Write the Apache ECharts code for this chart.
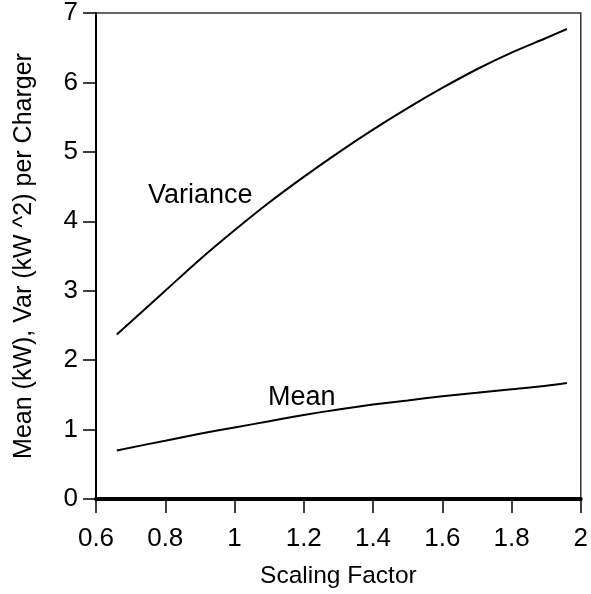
<!DOCTYPE html>
<html>
<head>
<meta charset="utf-8">
<script src="https://cdn.jsdelivr.net/npm/echarts@6/dist/echarts.min.js"></script>
<style>
  html, body { margin: 0; padding: 0; background: #fff; }
  #chart { width: 591px; height: 594px; }
</style>
</head>
<body>
<div id="chart"></div>
<script>
// scaling factor (x) and per-charger values
const scaling = [0.66, 0.8, 0.9, 1.0, 1.1, 1.2, 1.3, 1.4, 1.5, 1.6, 1.7, 1.8, 1.9, 1.96];
const variance = [2.37, 3.0, 3.45, 3.87, 4.27, 4.64, 4.99, 5.32, 5.63, 5.92, 6.19, 6.43, 6.64, 6.77];
const mean = [0.7, 0.84, 0.94, 1.03, 1.12, 1.21, 1.29, 1.36, 1.42, 1.48, 1.53, 1.58, 1.63, 1.67];

const font = 'Liberation Sans, Arial, sans-serif';
const pair = (ys) => scaling.map((x, i) => [x, ys[i]]);

const chart = echarts.init(document.getElementById('chart'));

chart.setOption({
  animation: false,
  grid: {
    left: 96,
    right: 9,
    top: 13,
    bottom: 95,
    show: true,
    borderColor: '#333',
    borderWidth: 1.5,
  },
  xAxis: {
    type: 'value',
    min: 0.6,
    max: 2,
    interval: 0.2,
    name: 'Scaling Factor',
    nameLocation: 'middle',
    nameGap: 65,
    nameTextStyle: { color: '#000', fontSize: 24.5, fontFamily: font },
    axisLine: { show: true, onZero: false, lineStyle: { color: '#000', width: 4 } },
    axisTick: { show: true, inside: false, length: 14, lineStyle: { color: '#000', width: 1.5 } },
    axisLabel: { color: '#000', fontSize: 26, fontFamily: font, margin: 27 },
    splitLine: { show: false },
  },
  yAxis: {
    type: 'value',
    min: 0,
    max: 7,
    interval: 1,
    name: 'Mean (kW), Var (kW ^2) per Charger',
    nameLocation: 'middle',
    nameGap: 59,
    nameTextStyle: { color: '#000', fontSize: 25, fontFamily: font },
    axisLine: { show: true, onZero: false, lineStyle: { color: '#000', width: 2 } },
    axisTick: { show: true, inside: false, length: 13, lineStyle: { color: '#000', width: 1.5 } },
    axisLabel: { color: '#000', fontSize: 26, fontFamily: font, margin: 18, padding: [6, 0, 0, 0] },
    splitLine: { show: false },
  },
  series: [
    {
      name: 'Variance',
      type: 'line',
      data: pair(variance),
      smooth: 0.3,
      symbol: 'none',
      lineStyle: { color: '#000', width: 2 },
    },
    {
      name: 'Mean',
      type: 'line',
      data: pair(mean),
      smooth: 0.3,
      symbol: 'none',
      lineStyle: { color: '#000', width: 2 },
    },
  ],
  graphic: [
    {
      type: 'text',
      left: 148,
      top: 182,
      style: { text: 'Variance', fill: '#000', font: '27px ' + font },
    },
    {
      type: 'text',
      left: 268,
      top: 384,
      style: { text: 'Mean', fill: '#000', font: '27px ' + font },
    },
  ],
});
</script>
</body>
</html>
